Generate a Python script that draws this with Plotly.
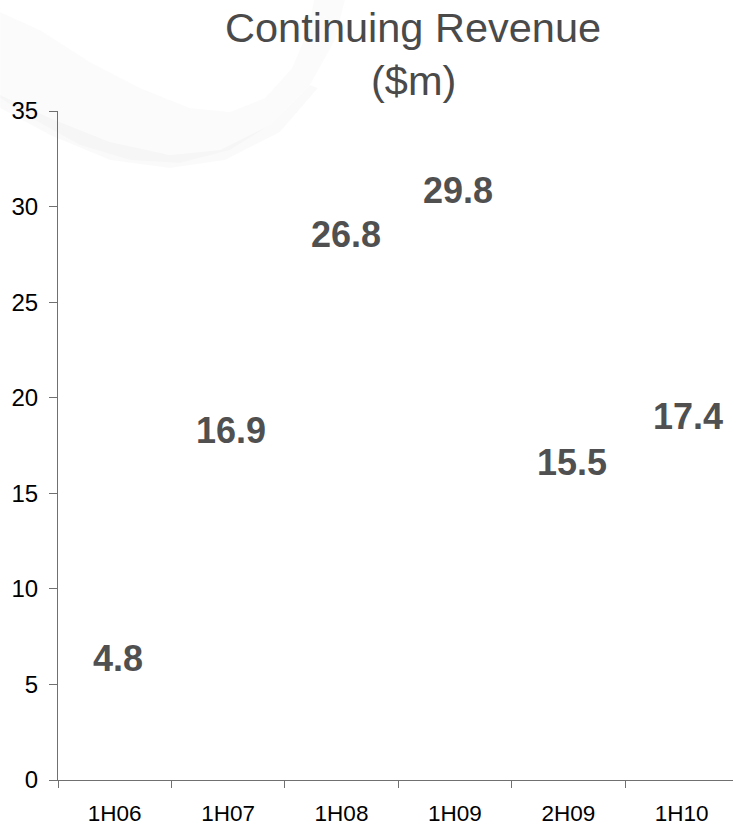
import plotly.graph_objects as go

# Data
categories = ["1H06", "1H07", "1H08", "1H09", "2H09", "1H10"]
revenue = [4.8, 16.9, 26.8, 29.8, 15.5, 17.4]
label_text = ["4.8", "16.9", "26.8", "29.8", "15.5", "17.4"]
y_ticks = [0, 5, 10, 15, 20, 25, 30, 35]
title_lines = ["Continuing Revenue", "($m)"]

# label placement offsets (pixels) as in the original slide
label_dx = [3, 3, 4, 3, 4, 6]
label_dy = [30, 26, 33, 20, 21, 31]

W, H = 733, 828
L, R, T, B = 58, 0, 111, 48
PW, PH = W - L - R, H - T - B
FONT = "Liberation Sans, Arial"


def px(x, y):
    return (x - L) / PW, (H - B - y) / PH


def path(points):
    pts = [px(x, y) for x, y in points]
    s = "M {:.4f},{:.4f} ".format(*pts[0])
    for p in pts[1:]:
        s += "L {:.4f},{:.4f} ".format(*p)
    return s + "Z"


upper = [(0, 12), (40, 30), (90, 62), (140, 88), (190, 108), (230, 112), (265, 98), (292, 68), (308, 30), (314, 0)]
lower = [(345, 0), (335, 40), (310, 85), (270, 125), (230, 150), (180, 163), (130, 160), (80, 145), (35, 120), (0, 98)]
inner_up = [(0, 95), (50, 118), (110, 142), (170, 155), (220, 150), (270, 125), (310, 85)]
inner_lo = [(318, 88), (280, 132), (225, 160), (170, 168), (110, 160), (50, 135), (0, 108)]

fig = go.Figure()
fig.add_trace(go.Bar(
    x=categories, y=revenue,
    marker=dict(color="rgba(255,255,255,0)", line=dict(width=0)),
    width=0.6, showlegend=False, hoverinfo="x+y",
))

for c, v, t, dx, dy in zip(categories, revenue, label_text, label_dx, label_dy):
    fig.add_annotation(
        x=c, y=v, text="<b>" + t + "</b>", showarrow=False,
        xanchor="center", yanchor="middle", xshift=dx, yshift=dy,
        font=dict(family=FONT, size=36, color="#505050"),
    )

# title, two lines
for line, ypix in zip(title_lines, [28, 80]):
    fig.add_annotation(
        xref="paper", yref="paper", x=px(413, 0)[0], y=px(0, ypix)[1],
        text=line, showarrow=False, xanchor="center", yanchor="middle",
        font=dict(family=FONT, size=41.5, color="#4a4a4a"),
    )

fig.update_layout(
    width=W, height=H,
    margin=dict(l=L, r=R, t=T, b=B, pad=0, autoexpand=False),
    paper_bgcolor="white", plot_bgcolor="rgba(0,0,0,0)",
    font=dict(family=FONT, size=23, color="black"),
    shapes=[
        dict(type="path", xref="paper", yref="paper", layer="below",
             path=path(upper + lower), fillcolor="rgba(0,0,0,0.014)", line=dict(width=0)),
        dict(type="path", xref="paper", yref="paper", layer="below",
             path=path(inner_up + inner_lo), fillcolor="rgba(0,0,0,0.02)", line=dict(width=0)),
    ],
)

fig.update_xaxes(
    type="category", range=[-0.5, -0.5 + PW / 113.4], automargin=False,
    showline=True, linecolor="#707070", linewidth=1,
    ticks="outside", tickson="boundaries", ticklen=7, tickcolor="#707070",
    showgrid=False, zeroline=False,
    tickfont=dict(family=FONT, size=22.5, color="black"),
    ticklabelstandoff=13,
)
fig.update_yaxes(
    range=[0, 35], tickvals=y_ticks, automargin=False,
    showline=True, linecolor="#707070", linewidth=1,
    ticks="outside", ticklen=8, tickcolor="#707070",
    showgrid=False, zeroline=False,
    tickfont=dict(family=FONT, size=24, color="black"),
    ticklabelstandoff=6,
)

fig.write_html("out.html")
